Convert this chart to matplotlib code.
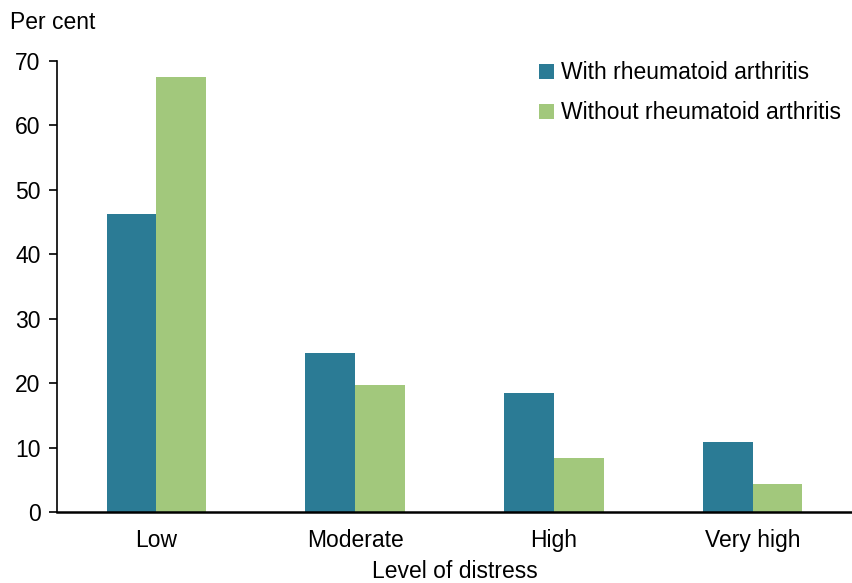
import matplotlib.pyplot as plt
import numpy as np

plt.rcParams['font.family'] = ['Liberation Sans', 'DejaVu Sans']

categories = ['Low', 'Moderate', 'High', 'Very high']
with_ra = [46.3, 24.7, 18.4, 10.9]
without_ra = [67.5, 19.7, 8.4, 4.3]

teal = '#2b7b95'
green = '#a2c87c'
fs = 16.5

fig = plt.figure(figsize=(8.52, 5.83), dpi=100)
ax = fig.add_axes([0.067, 0.1218, 0.933, 0.7736])

x = np.arange(len(categories))
w = 0.25
ax.bar(x - w / 2, with_ra, w, color=teal, label='With rheumatoid arthritis')
ax.bar(x + w / 2, without_ra, w, color=green, label='Without rheumatoid arthritis')

ax.set_xlim(-0.5, 3.5)
ax.set_ylim(0, 70)
ax.set_yticks(range(0, 71, 10))
ax.set_xticks(x)
ax.set_xticklabels(categories)
ax.tick_params(axis='x', length=0, labelsize=fs, pad=12)
ax.tick_params(axis='y', length=6, width=1.2, labelsize=fs, pad=6)

for s in ['top', 'right']:
    ax.spines[s].set_visible(False)
ax.spines['left'].set_linewidth(1.2)
ax.spines['bottom'].set_linewidth(1.8)

ax.set_xlabel('Level of distress', fontsize=fs, labelpad=6)
fig.text(0.012, 0.962, 'Per cent', fontsize=fs, va='center', ha='left')

ax.legend(loc='upper right', bbox_to_anchor=(1.012, 1.045), frameon=False, fontsize=fs,
          handlelength=0.65, handleheight=0.65, handletextpad=0.3, labelspacing=0.75)

fig.savefig('out.png', dpi=100)
